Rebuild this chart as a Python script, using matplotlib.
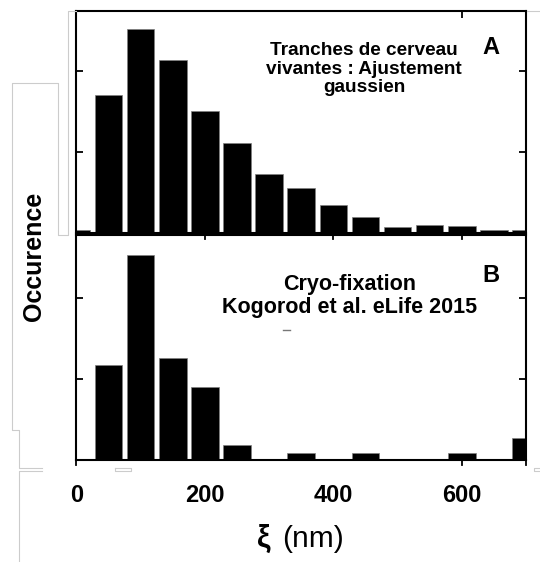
import matplotlib
matplotlib.use('Agg')
import matplotlib.pyplot as plt
from matplotlib.lines import Line2D

plt.rcParams['font.family'] = ['Liberation Sans', 'DejaVu Sans']

# histogram bins (nm) and counts for the two preparations
bin_centers = [0, 50, 100, 150, 200, 250, 300, 350, 400, 450, 500, 550, 600, 650, 700]
slices_counts = [0.4, 17.0, 25.2, 21.3, 15.1, 11.1, 7.3, 5.6, 3.5, 2.05, 0.8, 1.0, 0.85, 0.4, 0.45]
cryo_counts = [0, 11.7, 25.2, 12.6, 9.0, 1.8, 0, 0.9, 0, 0.9, 0, 0, 0.9, 0, 2.7]
xtick_values = [0, 200, 400, 600]
ytick_values = [10, 20]

W, H = 540, 562
fig = plt.figure(figsize=(W / 100, H / 100), dpi=100)


def px(x, y):
    # pixel position -> figure fraction
    return x / W, 1 - y / H


def style_axes(ax, ylim):
    ax.set_xlim(0, 700)
    ax.set_ylim(0, ylim)
    ax.set_yticks(ytick_values)
    ax.set_yticklabels([])
    for s in ax.spines.values():
        s.set_linewidth(1.5)
    ax.tick_params(axis='y', direction='in', left=True, right=True, length=5, width=1.3)


left, right = 76.4, 526
ax_a = fig.add_axes([left / W, 1 - 233.3 / H, (right - left) / W, (233.3 - 11) / H])
ax_b = fig.add_axes([left / W, 1 - 460 / H, (right - left) / W, 225 / H])

ax_a.bar(bin_centers, slices_counts, width=43, color='black', edgecolor='#808080', linewidth=0.5)
ax_b.bar(bin_centers, cryo_counts, width=43, color='black', edgecolor='#808080', linewidth=0.5)

style_axes(ax_a, 27.4)
style_axes(ax_b, 27.7)

ax_a.set_xticks([600])
ax_a.tick_params(axis='x', direction='in', top=True, bottom=False, labelbottom=False,
                 length=5, width=1.3)

ax_b.set_xticks(xtick_values)
ax_b.set_xticklabels([str(v) for v in xtick_values], fontsize=17, fontweight='bold')
ax_b.tick_params(axis='x', top=False, bottom=True, length=0, pad=17)
# short marks below the axis, and inward ones along the shared boundary
for xv in [0, 600, 700]:
    ax_b.plot([xv, xv], [0, -0.6], color='black', lw=1.3, clip_on=False)
for xv in xtick_values[1:]:
    ax_b.plot([xv, xv], [27.7, 27.2], color='black', lw=1.3, clip_on=False)

# panel annotations
fig.text(*px(364, 69), 'Tranches de cerveau\nvivantes : Ajustement\ngaussien',
         ha='center', va='center', multialignment='center', fontsize=13.7,
         fontweight='bold', linespacing=1.15)
fig.text(*px(491, 47), 'A', ha='center', va='center', fontsize=17, fontweight='bold')
fig.text(*px(350, 296), 'Cryo-fixation\nKogorod et al. eLife 2015',
         ha='center', va='center', multialignment='center', fontsize=15.5,
         fontweight='bold', linespacing=1.15)
fig.text(*px(491, 276), 'B', ha='center', va='center', fontsize=17, fontweight='bold')

# axis titles
fig.text(*px(34, 256), 'Occurence', rotation=90, ha='center', va='center',
         fontsize=18, fontweight='bold')
fig.text(*px(271, 539), 'ξ', ha='right', va='center', fontsize=22, fontweight='bold')
fig.text(*px(282, 539), '(nm)', ha='left', va='center', fontsize=21.5)

# faint frame lines left around the figure
gray = '#cccccc'
frame_lines = [
    [(76, 11), (67.7, 11), (67.7, 235), (58.3, 235), (58.3, 83.3), (11.7, 83.3), (11.7, 430),
     (19.4, 430), (19.4, 467.5), (41.5, 467.5)],
    [(41.5, 470.5), (19.4, 470.5), (19.4, 562)],
    [(115, 467.5), (131, 467.5), (131, 470.5), (115, 470.5), (115, 467.5)],
    [(540, 467.5), (534, 467.5), (534, 470.5), (540, 470.5)],
    [(527, 11), (540, 11)],
]
for pts in frame_lines:
    xs, ys = zip(*[px(x, y) for x, y in pts])
    fig.add_artist(Line2D(xs, ys, transform=fig.transFigure, color=gray, lw=0.8))
xs, ys = zip(*[px(283, 330), px(290, 330)])
fig.add_artist(Line2D(xs, ys, transform=fig.transFigure, color='#777777', lw=1.0))

fig.savefig('out.png', dpi=100)
